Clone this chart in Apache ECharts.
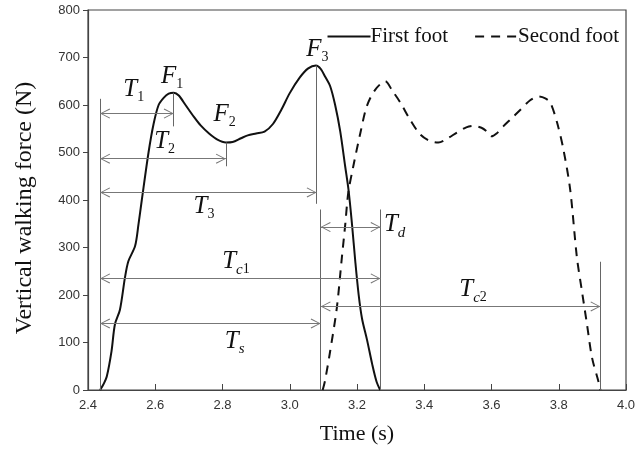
<!DOCTYPE html>
<html>
<head>
<meta charset="utf-8">
<script src="https://cdn.jsdelivr.net/npm/echarts@6/dist/echarts.min.js"></script>
<style>
  html, body { margin: 0; padding: 0; background: #fff; }
  #chart { width: 640px; height: 450px; }
</style>
</head>
<body>
<div id="chart"></div>
<script>
// walking force curves (time in s, force in N)
const firstTime = [2.436, 2.446, 2.456, 2.470, 2.480, 2.495, 2.510, 2.520, 2.540, 2.550, 2.560, 2.580, 2.595, 2.610, 2.625, 2.640, 2.655, 2.670, 2.690, 2.715, 2.735, 2.760, 2.785, 2.810, 2.830, 2.855, 2.875, 2.900, 2.925, 2.950, 2.975, 3.000, 3.030, 3.055, 3.078, 3.092, 3.105, 3.120, 3.135, 3.150, 3.165, 3.175, 3.185, 3.195, 3.205, 3.215, 3.230, 3.245, 3.258, 3.269]
const firstForce = [0, 12, 29, 82, 138, 169, 237, 271, 303, 348, 400, 500, 560, 600, 615, 624, 626, 620, 600, 575, 557, 540, 527, 521, 522, 530, 536, 540, 544, 560, 590, 625, 658, 677, 683, 676, 660, 640, 600, 545, 470, 420, 350, 270, 200, 150, 105, 55, 18, 0]

const secondTime = [3.098, 3.105, 3.120, 3.140, 3.155, 3.165, 3.174, 3.189, 3.210, 3.229, 3.254, 3.284, 3.305, 3.329, 3.358, 3.388, 3.415, 3.442, 3.470, 3.497, 3.525, 3.546, 3.570, 3.585, 3.600, 3.615, 3.635, 3.660, 3.686, 3.715, 3.740, 3.760, 3.775, 3.795, 3.814, 3.834, 3.854, 3.869, 3.884, 3.899, 3.918, 3.924]
const secondForce = [0, 20, 81, 173, 279, 348, 415, 471, 541, 597, 632, 650, 630, 605, 569, 538, 525, 521, 530, 542, 553, 556, 552, 545, 534, 540, 555, 572, 590, 610, 618, 614, 605, 563, 506, 422, 279, 208, 138, 68, 18, 0]

// vertical marker lines: time, from force, to force
const guideTime = [2.436, 2.655, 2.810, 3.080, 3.092, 3.270, 3.924]
const guideFrom = [0, 555, 471, 392, 0, 0, 0]
const guideTo = [613, 626, 521, 683, 380, 380, 270]

// double arrows: force level, start time, end time
const arrowForce = [582, 487, 416, 343, 235, 140, 176]
const arrowStart = [2.436, 2.436, 2.436, 3.092, 2.436, 2.436, 3.092]
const arrowEnd = [2.655, 2.810, 3.080, 3.270, 3.270, 3.092, 3.924]

// text labels
const labelMain = ['T', 'F', 'F', 'T', 'T', 'F', 'T', 'T', 'T', 'T']
const labelSub = ['1', '1', '2', '2', '3', '3', 'd', 'c1', 's', 'c2']
const labelTime = [2.536, 2.650, 2.806, 2.628, 2.745, 3.082, 3.312, 2.840, 2.836, 3.545]
const labelForce = [632, 660, 580, 523, 386, 717, 348, 270, 102, 211]

const serif = 'Liberation Serif'
const sans = 'Liberation Sans'
const chevron = 'path://M5,0 L10,10 L9.1,10.6 L5,1.8 L0.9,10.6 L0,10 Z'

const guideLines = guideTime.map(function(t, i) {
  return [{ coord: [t, guideFrom[i]] }, { coord: [t, guideTo[i]] }]
})
const arrowLines = arrowForce.map(function(f, i) {
  return [{ coord: [arrowStart[i], f] }, { coord: [arrowEnd[i], f] }]
})
const labelPoints = labelMain.map(function(m, i) {
  let sub = ''
  labelSub[i].split('').forEach(function(ch) {
    sub += /[0-9]/.test(ch) ? '{sn|' + ch + '}' : '{si|' + ch + '}'
  })
  return { coord: [labelTime[i], labelForce[i]], value: '{m|' + m + '}' + sub }
})

const chart = echarts.init(document.getElementById('chart'))
chart.setOption({
  animation: false,
  backgroundColor: '#fff',
  grid: {
    left: 88,
    right: 14,
    top: 10,
    bottom: 60,
    show: true,
    borderColor: '#444',
    borderWidth: 1.2
  },
  legend: {
    right: 16,
    top: 21,
    itemWidth: 43,
    itemHeight: 14,
    itemGap: 26,
    itemStyle: { opacity: 0 },
    textStyle: { fontFamily: serif, fontSize: 21, color: '#111', padding: [0, 0, 0, -5] },
    data: ['First foot', 'Second foot']
  },
  xAxis: {
    type: 'value',
    min: 2.4,
    max: 4.0,
    interval: 0.2,
    name: 'Time (s)',
    nameLocation: 'middle',
    nameGap: 33,
    nameTextStyle: { fontFamily: serif, fontSize: 22, color: '#111' },
    axisLine: { lineStyle: { color: '#444', width: 1.2 } },
    axisTick: { inside: true, length: 6, lineStyle: { color: '#444' } },
    axisLabel: {
      margin: 9,
      fontFamily: sans,
      fontSize: 13,
      color: '#333',
      formatter: function(v) { return v.toFixed(1) }
    },
    splitLine: { show: false }
  },
  yAxis: {
    type: 'value',
    min: 0,
    max: 800,
    interval: 100,
    name: 'Vertical walking force (N)',
    nameLocation: 'middle',
    nameRotate: 90,
    nameGap: 51,
    nameTextStyle: { fontFamily: serif, fontSize: 24, color: '#111', padding: [0, 16, 0, 0] },
    axisLine: { show: true, lineStyle: { color: '#444', width: 1.2 } },
    axisTick: { show: true, length: 5, lineStyle: { color: '#444' } },
    axisLabel: { margin: 8, fontFamily: sans, fontSize: 13, color: '#333' },
    splitLine: { show: false }
  },
  series: [
    {
      name: 'First foot',
      type: 'line',
      smooth: 0.3,
      symbol: 'none',
      lineStyle: { color: '#111', width: 2 },
      itemStyle: { color: '#111' },
      data: firstTime.map(function(t, i) { return [t, firstForce[i]] }),
      markLine: {
        silent: true,
        symbol: 'none',
        label: { show: false },
        lineStyle: { color: '#666', width: 1, type: 'solid' },
        data: guideLines
      },
      z: 3
    },
    {
      name: 'Second foot',
      type: 'line',
      smooth: 0.3,
      symbol: 'none',
      lineStyle: { color: '#111', width: 2, type: [9, 7] },
      itemStyle: { color: '#111' },
      data: secondTime.map(function(t, i) { return [t, secondForce[i]] }),
      markLine: {
        silent: true,
        symbol: [chevron, chevron],
        symbolSize: [10, 10],
        symbolOffset: [[0, 5], [0, 5]],
        label: { show: false },
        lineStyle: { color: '#777', width: 1, type: 'solid' },
        data: arrowLines
      },
      markPoint: {
        silent: true,
        symbol: 'circle',
        symbolSize: 0,
        label: {
          show: true,
          position: 'inside',
          formatter: function(p) { return p.value },
          rich: {
            m: { fontFamily: serif, fontStyle: 'italic', fontSize: 25, color: '#111' },
            sn: { fontFamily: serif, fontSize: 14, color: '#111', padding: [16, 0, 0, 0] },
            si: { fontFamily: serif, fontStyle: 'italic', fontSize: 15, color: '#111', padding: [16, 0, 0, 0] }
          }
        },
        data: labelPoints
      },
      z: 3
    }
  ]
})
</script>
</body>
</html>
